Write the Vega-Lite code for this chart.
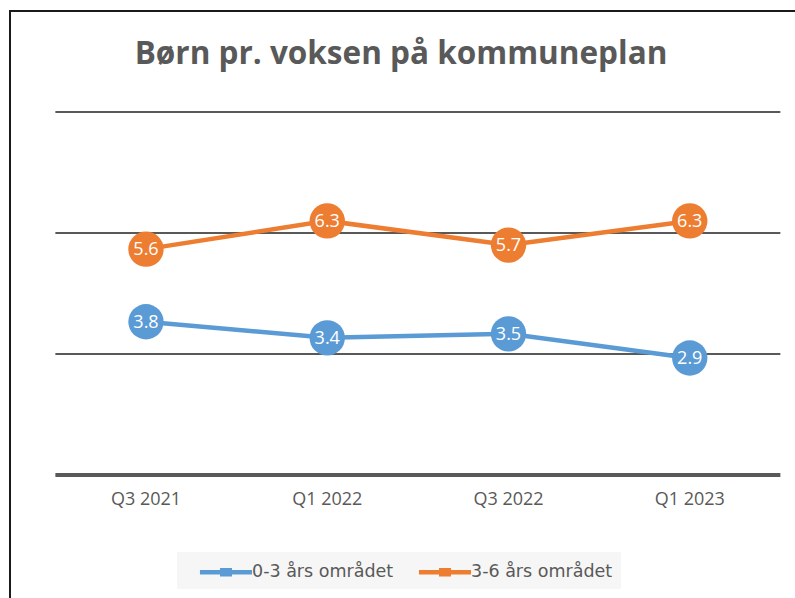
{
  "$schema": "https://vega.github.io/schema/vega-lite/v6.json",
  "autosize": {"type": "none"},
  "padding": {"left": 10, "top": 11, "right": 0, "bottom": 0},
  "width": 790,
  "height": 600,
  "background": "white",
  "title": {
    "text": "Børn pr. voksen på kommuneplan",
    "font": "Open Sans",
    "fontSize": 31.5,
    "fontWeight": "bold",
    "color": "#595959",
    "anchor": "middle",
    "frame": "group",
    "offset": -59,
    "dx": -4
  },
  "datasets": {
    "series": [
      {"quarter": "Q3 2021", "group": "0-3 års området", "value": 3.8},
      {"quarter": "Q1 2022", "group": "0-3 års området", "value": 3.4},
      {"quarter": "Q3 2022", "group": "0-3 års området", "value": 3.5},
      {"quarter": "Q1 2023", "group": "0-3 års området", "value": 2.9},
      {"quarter": "Q3 2021", "group": "3-6 års området", "value": 5.6},
      {"quarter": "Q1 2022", "group": "3-6 års området", "value": 6.3},
      {"quarter": "Q3 2022", "group": "3-6 års området", "value": 5.7},
      {"quarter": "Q1 2023", "group": "3-6 års området", "value": 6.3}
    ],
    "grid": [
      {"level": 3, "from": "Q3 2021", "to": "Q1 2023"},
      {"level": 6, "from": "Q3 2021", "to": "Q1 2023"},
      {"level": 9, "from": "Q3 2021", "to": "Q1 2023"}
    ],
    "base": [
      {"level": 0, "from": "Q3 2021", "to": "Q1 2023"}
    ]
  },
  "layer": [
    {
      "data": {"name": "grid"},
      "mark": {"type": "rule", "color": "#222222", "strokeWidth": 1.5},
      "encoding": {
        "x": {"field": "from", "type": "ordinal", "bandPosition": 0, "title": null},
        "x2": {"field": "to", "bandPosition": 1},
        "y": {"field": "level", "type": "quantitative"}
      }
    },
    {
      "data": {"name": "base"},
      "mark": {"type": "rule", "color": "#595959", "strokeWidth": 4},
      "encoding": {
        "x": {"field": "from", "type": "ordinal", "bandPosition": 0, "title": null},
        "x2": {"field": "to", "bandPosition": 1},
        "y": {"field": "level", "type": "quantitative"}
      }
    },
    {
      "data": {"name": "series"},
      "mark": {"type": "line", "strokeWidth": 4.5},
      "encoding": {
        "x": {"field": "quarter", "type": "ordinal", "title": null},
        "y": {"field": "value", "type": "quantitative"},
        "color": {"field": "group", "type": "nominal"}
      }
    },
    {
      "data": {"name": "series"},
      "mark": {"type": "circle", "size": 1250, "opacity": 1},
      "encoding": {
        "x": {"field": "quarter", "type": "ordinal", "title": null},
        "y": {"field": "value", "type": "quantitative"},
        "color": {"field": "group", "type": "nominal"}
      }
    },
    {
      "data": {"name": "series"},
      "mark": {"type": "text", "color": "white", "font": "Open Sans", "fontSize": 18, "align": "center", "baseline": "middle", "dy": 1},
      "encoding": {
        "x": {"field": "quarter", "type": "ordinal", "title": null},
        "y": {"field": "value", "type": "quantitative"},
        "text": {"field": "value", "type": "quantitative", "format": ".1f"}
      }
    }
  ],
  "resolve": {"scale": {"x": "shared", "y": "shared"}},
  "encoding": {
    "x": {
      "scale": {"type": "band", "domain": ["Q3 2021", "Q1 2022", "Q3 2022", "Q1 2023"], "paddingInner": 0, "paddingOuter": 0.1793, "align": 0.698},
      "axis": {"orient": "bottom", "offset": -136, "domain": false, "ticks": false, "tickSize": 0, "labelPadding": 15, "labelFont": "Open Sans", "labelFontSize": 18, "labelColor": "#595959", "labelAngle": 0, "grid": false, "title": null}
    },
    "y": {
      "scale": {"domain": [-3.372, 11.504], "nice": false, "zero": false},
      "axis": null
    },
    "color": {
      "scale": {"domain": ["0-3 års området", "3-6 års området"], "range": ["#5b9bd5", "#ed7d31"]},
      "legend": {"title": null}
    }
  },
  "config": {
    "view": {"stroke": "#1a1a1a", "strokeWidth": 2},
    "legend": {
      "orient": "none",
      "legendX": 167,
      "legendY": 541,
      "direction": "horizontal",
      "fillColor": "#f6f6f6",
      "padding": 8,
      "symbolOffset": 29,
      "labelFont": "DejaVu Sans",
      "labelFontSize": 17.5,
      "labelColor": "#595959",
      "labelOffset": 14,
      "columnPadding": 10,
      "symbolType": "M-2.17,-0.19L-0.5,-0.19L-0.5,-0.36L0.5,-0.36L0.5,-0.19L2.17,-0.19L2.17,0.19L0.5,0.19L0.5,0.36L-0.5,0.36L-0.5,0.19L-2.17,0.19Z",
      "symbolSize": 576,
      "symbolStrokeWidth": 0
    }
  }
}
